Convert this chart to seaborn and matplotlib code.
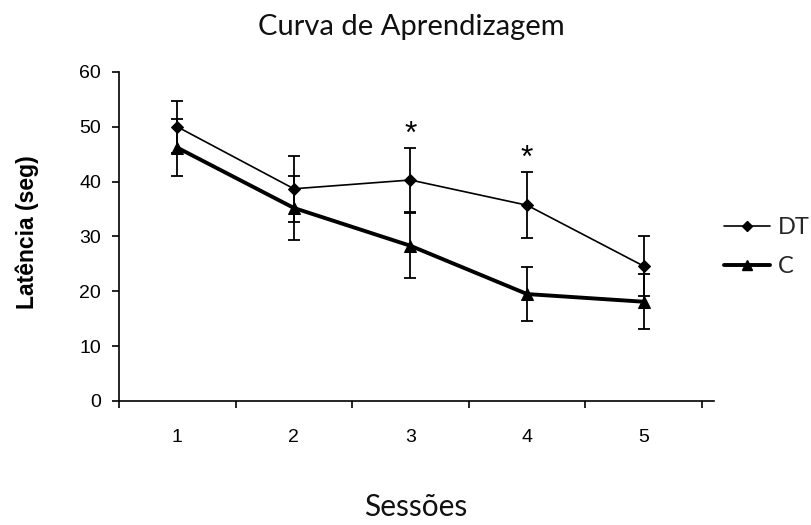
import matplotlib
matplotlib.use('Agg')
import matplotlib.pyplot as plt
import seaborn as sns
import pandas as pd
from matplotlib.lines import Line2D

sessions = [1, 2, 3, 4, 5]
x_labels = ['1', '2', '3', '4', '5']
dt_mean = [50.0, 38.7, 40.3, 35.7, 24.6]
dt_err = [4.7, 6.0, 5.8, 6.0, 5.5]
c_mean = [46.2, 35.2, 28.3, 19.5, 18.1]
c_err = [5.2, 5.8, 5.9, 5.0, 5.0]
signif_sessions = [3, 4]
y_ticks = [0, 10, 20, 30, 40, 50, 60]

sns.set_theme(style='white')
plt.rcParams['font.family'] = ['Liberation Sans', 'DejaVu Sans']

fig = plt.figure(figsize=(8.11, 5.25), dpi=100)
ax = fig.add_axes([0.1467, 0.2362, 0.7333, 0.6267])

df_dt = pd.DataFrame({'Sessão': sessions, 'Latência': dt_mean})
df_c = pd.DataFrame({'Sessão': sessions, 'Latência': c_mean})

ax.errorbar(sessions, dt_mean, yerr=dt_err, fmt='none', ecolor='black',
            elinewidth=1.3, capsize=4.5, capthick=1.3, zorder=2)
ax.errorbar(sessions, c_mean, yerr=c_err, fmt='none', ecolor='black',
            elinewidth=1.3, capsize=4.5, capthick=1.3, zorder=2)
sns.lineplot(data=df_dt, x='Sessão', y='Latência', color='black', linewidth=1.2,
             marker='D', markersize=6, markeredgecolor='black', ax=ax, zorder=3)
sns.lineplot(data=df_c, x='Sessão', y='Latência', color='black', linewidth=2.8,
             marker='^', markersize=8, markeredgecolor='black', ax=ax, zorder=3)

for s in signif_sessions:
    i = sessions.index(s)
    ax.text(s, dt_mean[i] + dt_err[i] + 2.4, '*', ha='center', va='center',
            fontsize=23, color='black')

ax.set_xlim(0.5, 5.6)
ax.set_ylim(0, 60)
ax.set_xticks(sessions)
ax.set_xticklabels(x_labels)
ax.set_xticks([0.5, 1.5, 2.5, 3.5, 4.5, 5.5], minor=True)
ax.set_yticks(y_ticks)
ax.tick_params(axis='x', which='major', length=0, pad=20, labelsize=14, colors='black')
ax.tick_params(axis='x', which='minor', bottom=True, length=5, width=1.2, direction='out', color='black')
ax.tick_params(axis='y', which='major', left=True, length=5, width=1.2, direction='out',
               pad=8, labelsize=14, colors='black')
for side in ['top', 'right']:
    ax.spines[side].set_visible(False)
for side in ['left', 'bottom']:
    ax.spines[side].set_color('black')
    ax.spines[side].set_linewidth(1.2)
ax.set_xlabel('')
ax.set_ylabel('')

fig.text(411 / 811, 1 - 27 / 525, 'Curva de Aprendizagem', ha='center', va='center',
         fontsize=21, family=['Lato', 'DejaVu Sans'], color='#111111')
fig.text(416 / 811, 1 - 507 / 525, 'Sessões', ha='center', va='center',
         fontsize=21.5, family=['Lato', 'DejaVu Sans'], color='#111111')
fig.text(27 / 811, 1 - 232 / 525, 'Latência (seg)', ha='center', va='center', rotation=90,
         fontsize=16.5, fontweight='bold', color='black')

handles = [Line2D([0], [0], color='black', lw=1.2, marker='D', markersize=5),
           Line2D([0], [0], color='black', lw=2.8, marker='^', markersize=7)]
fig.legend(handles, ['DT', 'C'], loc='center left', bbox_to_anchor=(724 / 811, 1 - 247 / 525),
           frameon=False, handlelength=1.95, handletextpad=0.35, labelspacing=0.75,
           borderpad=0, borderaxespad=0,
           prop={'family': ['Lato', 'DejaVu Sans'], 'size': 17})

fig.savefig('out.png', dpi=100)
